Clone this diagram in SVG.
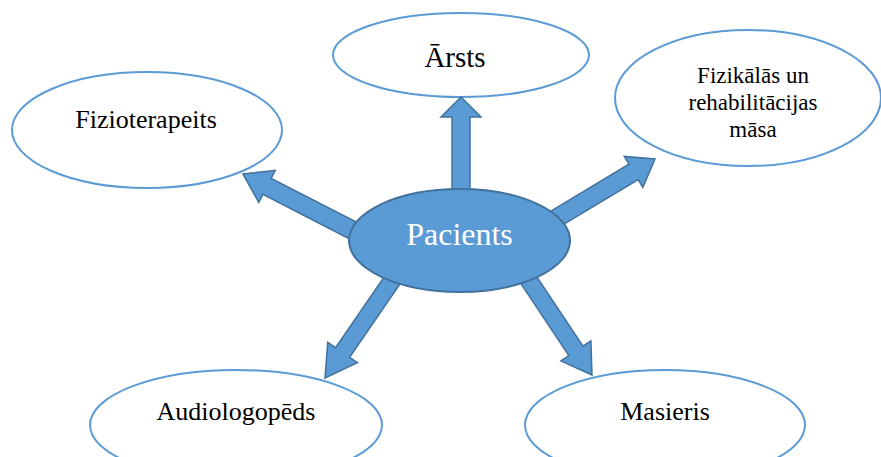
<svg xmlns="http://www.w3.org/2000/svg" width="881" height="457" viewBox="0 0 881 457">
<style>
.outer{fill:#ffffff;stroke:#5B9BD5;stroke-width:2}
.arrow{fill:#5B9BD5;stroke:#41719C;stroke-width:1.5;stroke-linejoin:miter}
.center{fill:#5B9BD5;stroke:#41719C;stroke-width:2}
.lbl{font-family:"Liberation Serif","Times New Roman",serif;font-size:26px;fill:#000;text-anchor:middle}
.sm{font-size:23px}
.big{font-size:29px}
.ctr{font-size:32px;fill:#ffffff}
</style>
<rect width="881" height="457" fill="#ffffff"/>
<g id="arsts">
<ellipse class="outer" cx="461" cy="55" rx="128" ry="42"/>
<text class="lbl big" x="455" y="67">Ārsts</text>
</g>
<g id="fizikalas">
<ellipse class="outer" cx="748" cy="98" rx="133" ry="68"/>
<text class="lbl sm" x="753" y="83">Fizikālās un</text>
<text class="lbl sm" x="753" y="110">rehabilitācijas</text>
<text class="lbl sm" x="753" y="137">māsa</text>
</g>
<g id="fizioterapeits">
<ellipse class="outer" cx="147" cy="130" rx="135" ry="58"/>
<text class="lbl" x="146" y="128">Fizioterapeits</text>
</g>
<g id="audiologopeds">
<ellipse class="outer" cx="236" cy="425" rx="146" ry="55"/>
<text class="lbl" x="236" y="420">Audiologopēds</text>
</g>
<g id="masieris">
<ellipse class="outer" cx="665" cy="425" rx="140" ry="55"/>
<text class="lbl" x="665" y="420">Masieris</text>
</g>
<g id="connectors">
<polygon class="arrow" transform="translate(461,97) rotate(-90)" points="0,0 -20,20 -20,9 -100,9 -100,-9 -20,-9 -20,-20"/>
<polygon class="arrow" transform="translate(243,174) rotate(207.2)" points="0,0 -27,18 -27,9 -130,9 -130,-9 -27,-9 -27,-18"/>
<polygon class="arrow" transform="translate(655,159) rotate(-31)" points="0,0 -25,18 -25,9 -125,9 -125,-9 -25,-9 -25,-18"/>
<polygon class="arrow" transform="translate(325,378) rotate(124.5)" points="0,0 -31,18 -31,8.5 -130,8.5 -130,-8.5 -31,-8.5 -31,-18"/>
<polygon class="arrow" transform="translate(592,375) rotate(56.3)" points="0,0 -29,18 -29,8.5 -130,8.5 -130,-8.5 -29,-8.5 -29,-18"/>
</g>
<g id="pacients">
<ellipse class="center" cx="459.5" cy="240.5" rx="110.5" ry="51.5"/>
<text class="lbl ctr" x="459.5" y="245">Pacients</text>
</g>
</svg>
